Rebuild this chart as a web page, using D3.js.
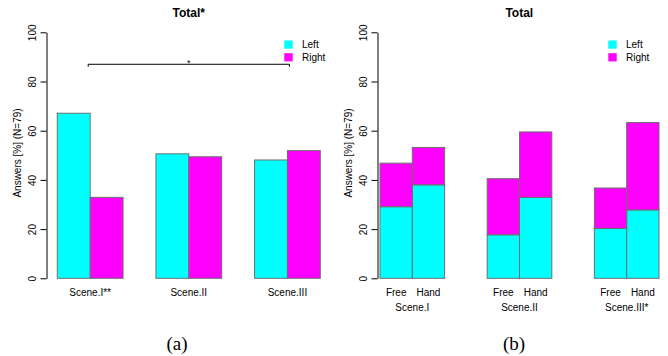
<!DOCTYPE html>
<html>
<head>
<meta charset="utf-8">
<script src="https://cdn.jsdelivr.net/npm/d3@7/dist/d3.min.js"></script>
<style>
  html, body { margin: 0; padding: 0; background: #fff; }
  svg { display: block; font-family: "Liberation Sans", Arial, sans-serif; }
</style>
</head>
<body>
<svg id="chart" width="668" height="356"></svg>
<script>
// Panel (a): share of Left / Right answers per scene
const scenesA = ["Scene.I**", "Scene.II", "Scene.III"];
const totalLeft = [67.1, 50.6, 48.1];
const totalRight = [32.9, 49.4, 51.9];

// Panel (b): stacked Left / Right shares split by Free / Hand condition
const scenesB = ["Scene.I", "Scene.II", "Scene.III*"];
const conditions = ["Free", "Hand"];
const freeLeft = [29.1, 17.7, 20.3];
const freeRight = [17.7, 22.8, 16.4];
const handLeft = [38.0, 32.9, 27.8];
const handRight = [15.2, 26.6, 35.5];

const seriesNames = ["Left", "Right"];
const yTicks = [0, 20, 40, 60, 80, 100];
const yLabel = "Answers [%] (N=79)";

const colors = { Left: "#00ffff", Right: "#ff00ff" };
const barStroke = "#6e6e6e";

const svg = d3.select("#chart");
const y = d3.scaleLinear().domain([0, 100]).range([278.3, 32.3]);

function drawYAxis(g, axisX, labelX) {
  const ax = g.append("g")
    .attr("transform", `translate(${axisX},0)`)
    .call(d3.axisLeft(y).tickValues(yTicks).tickSize(6).tickSizeOuter(0).tickFormat(d3.format("d")));
  ax.select(".domain").attr("stroke", "#000").attr("stroke-width", 1);
  ax.selectAll(".tick line").attr("stroke", "#000");
  ax.selectAll(".tick text")
    .attr("x", null).attr("dy", null)
    .attr("transform", "translate(-10.3,0) rotate(-90)")
    .attr("text-anchor", "middle")
    .attr("font-size", 10)
    .attr("font-family", "Liberation Sans, Arial, sans-serif")
    .attr("fill", "#000");
  g.append("text")
    .attr("transform", `translate(${labelX},153) rotate(-90)`)
    .attr("text-anchor", "middle")
    .attr("font-size", 10)
    .text(yLabel);
}

function drawLegend(g, x0, yTop) {
  seriesNames.forEach((s, i) => {
    g.append("rect")
      .attr("x", x0).attr("y", yTop + i * 12.7)
      .attr("width", 8.4).attr("height", 8.2)
      .attr("fill", colors[s]);
    g.append("text")
      .attr("x", x0 + 17.7).attr("y", yTop + i * 12.7 + 7.8)
      .attr("font-size", 10)
      .text(s);
  });
}

// ---------- Panel (a) ----------
const gA = svg.append("g");
const xA = d3.scaleBand().domain(scenesA).range([57.3, 320.3]).paddingInner(1 / 3).paddingOuter(0);
const xAInner = d3.scaleBand().domain(seriesNames).range([0, xA.bandwidth()]);

const dataA = scenesA.flatMap((sc, i) => [
  { scene: sc, series: "Left", value: totalLeft[i] },
  { scene: sc, series: "Right", value: totalRight[i] }
]);

gA.selectAll("rect.bar")
  .data(dataA)
  .join("rect")
  .attr("class", "bar")
  .attr("x", d => xA(d.scene) + xAInner(d.series))
  .attr("y", d => y(d.value))
  .attr("width", xAInner.bandwidth())
  .attr("height", d => y(0) - y(d.value))
  .attr("fill", d => colors[d.series])
  .attr("stroke", barStroke)
  .attr("stroke-width", 1);

drawYAxis(gA, 46.5, 20.5);

gA.selectAll("text.xlab")
  .data(scenesA)
  .join("text")
  .attr("class", "xlab")
  .attr("x", d => xA(d) + xA.bandwidth() / 2)
  .attr("y", 296)
  .attr("text-anchor", "middle")
  .attr("font-size", 10)
  .text(d => d);

gA.append("text")
  .attr("x", 188.7)
  .attr("y", 17)
  .attr("text-anchor", "middle")
  .attr("font-size", 12)
  .attr("font-weight", "bold")
  .text("Total*");

drawLegend(gA, 284.3, 40.5);

// significance bracket between Scene.I and Scene.III
const bx1 = xA(scenesA[0]) + xA.bandwidth() / 2 - 2;
const bx2 = xA(scenesA[2]) + xA.bandwidth() / 2 + 2;
const by = y(87);
gA.append("path")
  .attr("d", `M${bx1},${by + 2.5}V${by}H${bx2}V${by + 2.5}`)
  .attr("fill", "none")
  .attr("stroke", "#000")
  .attr("stroke-width", 1);
gA.append("text")
  .attr("x", (bx1 + bx2) / 2)
  .attr("y", by + 1.5)
  .attr("text-anchor", "middle")
  .attr("font-size", 9)
  .text("*");

gA.append("text")
  .attr("x", 177)
  .attr("y", 350)
  .attr("text-anchor", "middle")
  .attr("font-family", "Liberation Serif, Times New Roman, serif")
  .attr("font-size", 19)
  .text("(a)");

// ---------- Panel (b) ----------
const gB = svg.append("g");
const xB = d3.scaleBand().domain(scenesB).range([380, 659]).paddingInner(0.397).paddingOuter(0);
const xBInner = d3.scaleBand().domain(conditions).range([0, xB.bandwidth()]);

const dataB = scenesB.flatMap((sc, i) => [
  { scene: sc, cond: "Free", left: freeLeft[i], right: freeRight[i] },
  { scene: sc, cond: "Hand", left: handLeft[i], right: handRight[i] }
]);

const stack = d3.stack().keys(["left", "right"]);
const stacked = stack(dataB);

gB.selectAll("g.layer")
  .data(stacked)
  .join("g")
  .attr("class", "layer")
  .attr("fill", d => colors[d.key === "left" ? "Left" : "Right"])
  .selectAll("rect")
  .data(d => d)
  .join("rect")
  .attr("x", d => xB(d.data.scene) + xBInner(d.data.cond))
  .attr("y", d => y(d[1]))
  .attr("width", xBInner.bandwidth())
  .attr("height", d => y(d[0]) - y(d[1]))
  .attr("stroke", barStroke)
  .attr("stroke-width", 1);

drawYAxis(gB, 377.5, 351.5);

gB.selectAll("text.cond")
  .data(dataB)
  .join("text")
  .attr("class", "cond")
  .attr("x", d => xB(d.scene) + xBInner(d.cond) + xBInner.bandwidth() / 2)
  .attr("y", 296)
  .attr("text-anchor", "middle")
  .attr("font-size", 10)
  .text(d => d.cond);

gB.selectAll("text.scene")
  .data(scenesB)
  .join("text")
  .attr("class", "scene")
  .attr("x", d => xB(d) + xB.bandwidth() / 2)
  .attr("y", 311)
  .attr("text-anchor", "middle")
  .attr("font-size", 10)
  .text(d => d);

gB.append("text")
  .attr("x", 519.3)
  .attr("y", 17)
  .attr("text-anchor", "middle")
  .attr("font-size", 12)
  .attr("font-weight", "bold")
  .text("Total");

drawLegend(gB, 608.3, 40.5);

gB.append("text")
  .attr("x", 514)
  .attr("y", 350)
  .attr("text-anchor", "middle")
  .attr("font-family", "Liberation Serif, Times New Roman, serif")
  .attr("font-size", 19)
  .text("(b)");
</script>
</body>
</html>
